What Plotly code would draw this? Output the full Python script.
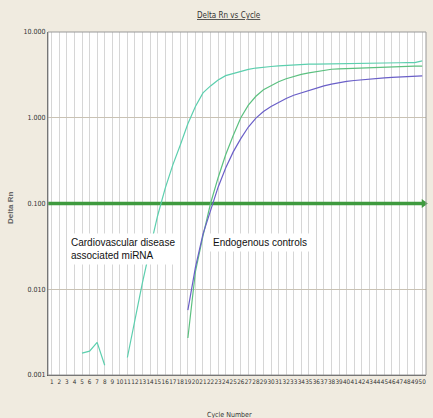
import math
import plotly.graph_objects as go

cycles = list(range(1, 51))

mirna = [None, None, None, None, 0.0018, 0.0019, 0.0024, 0.0013, None, None,
         0.0016, 0.0045, 0.012, 0.030, 0.072, 0.15, 0.28, 0.48, 0.85, 1.35,
         1.95, 2.35, 2.75, 3.10, 3.30, 3.50, 3.67, 3.80, 3.90, 3.96,
         4.02, 4.08, 4.14, 4.18, 4.21, 4.23, 4.25, 4.28, 4.30, 4.31,
         4.32, 4.33, 4.34, 4.35, 4.36, 4.37, 4.38, 4.39, 4.40, 4.60]

endo1 = [None] * 18 + [0.0027, 0.016,
         0.042, 0.10, 0.20, 0.37, 0.62, 1.00, 1.40, 1.78, 2.12, 2.38,
         2.63, 2.85, 3.05, 3.20, 3.33, 3.45, 3.58, 3.68, 3.72, 3.75,
         3.78, 3.82, 3.86, 3.90, 3.93, 3.95, 3.97, 3.98, 4.00, 4.00]

endo2 = [None] * 18 + [0.0057, 0.018,
         0.044, 0.085, 0.155, 0.26, 0.40, 0.57, 0.78, 0.99, 1.18, 1.35,
         1.52, 1.68, 1.83, 1.95, 2.10, 2.23, 2.35, 2.47, 2.57, 2.66,
         2.72, 2.78, 2.82, 2.87, 2.92, 2.95, 2.99, 3.02, 3.05, 3.08]

threshold = 0.1

ytick_vals = [0.001, 0.01, 0.1, 1, 10]
ytick_text = ["0.001", "0.010", "0.100", "1.000", "10.000"]

narrow = "Liberation Sans Narrow, DejaVu Sans Condensed, Arial Narrow, Liberation Sans, sans-serif"
sans = "Liberation Sans, Arial, sans-serif"

fig = go.Figure()

fig.add_trace(go.Scatter(x=[0.5, 50.5], y=[threshold, threshold], mode="lines",
                         line=dict(color="#3f9b3f", width=3.5), hoverinfo="skip"))
fig.add_trace(go.Scatter(x=[50.2], y=[threshold], mode="markers", cliponaxis=False,
                         marker=dict(symbol="triangle-right", size=8, color="#3f9b3f"),
                         hoverinfo="skip"))

fig.add_trace(go.Scatter(x=cycles, y=mirna, mode="lines",
                         line=dict(color="#5ccfae", width=1.2)))
fig.add_trace(go.Scatter(x=cycles, y=endo1, mode="lines",
                         line=dict(color="#5cc080", width=1.2)))
fig.add_trace(go.Scatter(x=cycles, y=endo2, mode="lines",
                         line=dict(color="#6a5fc8", width=1.2)))

fig.update_layout(
    width=433, height=418,
    margin=dict(l=48, r=7, t=32, b=43, autoexpand=False),
    paper_bgcolor="#f0ebe0",
    plot_bgcolor="#ffffff",
    showlegend=False,
    font=dict(family=narrow, size=8, color="#333333"),
)

fig.update_xaxes(
    range=[0.5, 50.5], tickmode="array", tickvals=cycles,
    ticktext=[str(c) for c in cycles], automargin=False,
    showgrid=True, gridcolor="#d6d6d6", gridwidth=1,
    showline=True, linecolor="#555555", linewidth=1, mirror=False,
    ticks="", tickfont=dict(family=narrow, size=6.3, color="#333333"),
    zeroline=False, tickangle=0,
)
fig.update_yaxes(
    type="log", range=[-3, 1], tickmode="array", tickvals=ytick_vals,
    ticktext=ytick_text, automargin=False,
    showgrid=True, gridcolor="#c9c2b4", gridwidth=1,
    showline=True, linecolor="#555555", linewidth=1,
    ticks="", tickfont=dict(family=narrow, size=7, color="#333333"),
    zeroline=False,
)

# top and right border
fig.add_shape(type="rect", xref="paper", yref="paper", x0=0, x1=1, y0=0, y1=1,
              line=dict(color="#999999", width=1), layer="above")

fig.add_annotation(text="<u>Delta Rn vs Cycle</u>", xref="paper", yref="paper",
                   x=(229 - 48) / 378, y=1, yshift=17, showarrow=False,
                   xanchor="center", yanchor="middle",
                   font=dict(family=narrow, size=8, color="#333333"))
fig.add_annotation(text="<b>Delta Rn</b>", xref="paper", yref="paper",
                   x=0, xshift=-38, y=(375 - 208) / 343, textangle=-90, showarrow=False,
                   xanchor="center", yanchor="middle",
                   font=dict(family=sans, size=8, color="#666666"))
fig.add_annotation(text="Cycle Number", xref="paper", yref="paper",
                   x=(229 - 48) / 378, y=0, yshift=-40, showarrow=False,
                   xanchor="center", yanchor="middle",
                   font=dict(family=narrow, size=7, color="#333333"))

fig.add_annotation(text="Cardiovascular disease<br>associated miRNA", x=3.0, y=math.log10(0.045),
                   xanchor="left", yanchor="top", align="left", showarrow=False,
                   bgcolor="#ffffff", borderpad=3,
                   font=dict(family=sans, size=10, color="#111111"))
fig.add_annotation(text="Endogenous controls", x=21.8, y=math.log10(0.045),
                   xanchor="left", yanchor="top", align="left", showarrow=False,
                   bgcolor="#ffffff", borderpad=3,
                   font=dict(family=sans, size=10, color="#111111"))

fig.write_html("out.html", config={"displayModeBar": False},
               post_script="document.body.style.margin='0';document.body.style.background='#f0ebe0';")
